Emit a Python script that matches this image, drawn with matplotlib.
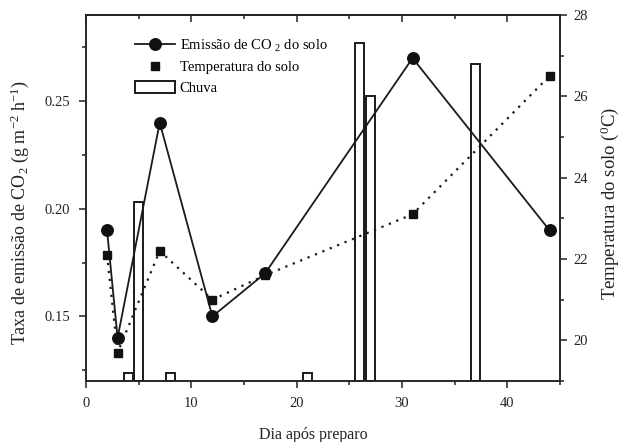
import numpy as np
import matplotlib
matplotlib.use('Agg')
import matplotlib.pyplot as plt
from matplotlib.lines import Line2D
from matplotlib.patches import Rectangle
from matplotlib.ticker import MultipleLocator, FormatStrFormatter

# ---- data ----
days = [2, 3, 7, 12, 17, 31, 44]
co2 = [0.19, 0.14, 0.24, 0.15, 0.17, 0.27, 0.19]          # g m-2 h-1
temp = [22.1, 19.7, 22.2, 21.0, 21.6, 23.1, 26.5]          # soil temperature (C)
rain_days = [4, 5, 8, 21, 26, 27, 37]
rain_mm = [1.0, 22.0, 1.0, 1.0, 41.5, 35.0, 39.0]          # rainfall (hidden scale)

plt.rcParams['font.family'] = ['Liberation Serif', 'DejaVu Serif']
plt.rcParams['mathtext.fontset'] = 'custom'
plt.rcParams['mathtext.rm'] = 'Liberation Serif'
plt.rcParams['mathtext.it'] = 'Liberation Serif:italic'
plt.rcParams['axes.linewidth'] = 1.1

INK = '#1a1a1a'
TXT = '#222222'

fig = plt.figure(figsize=(6.23, 4.42), dpi=100)
ax = fig.add_axes([0.138, 0.138, 0.761, 0.828])

# rain bars on a hidden scale
ax3 = ax.twinx()
ax3.bar(rain_days, rain_mm, width=0.85, facecolor='none', edgecolor=INK,
        linewidth=1.4, align='center')
ax3.set_ylim(0, 45)
ax3.axis('off')

# CO2 emission
ax.plot(days, co2, color=INK, lw=1.3, marker='o', ms=8.3,
        markerfacecolor='#111111', markeredgecolor='#111111', zorder=5)
ax.set_xlim(0, 45)
ax.set_ylim(0.12, 0.29)
ax.xaxis.set_major_locator(MultipleLocator(10))
ax.xaxis.set_minor_locator(MultipleLocator(5))
ax.yaxis.set_major_locator(MultipleLocator(0.05))
ax.yaxis.set_minor_locator(MultipleLocator(0.025))
ax.yaxis.set_major_formatter(FormatStrFormatter('%.2f'))
ax.tick_params(axis='both', which='major', direction='out', length=5, width=1.1,
               labelsize=10.5, colors=TXT)
ax.tick_params(axis='both', which='minor', direction='out', length=3, width=1.1,
               colors=TXT)
ax.tick_params(axis='x', which='major', pad=6.5)
ax.tick_params(axis='y', which='major', pad=6.5)
ax.set_xlabel('Dia após preparo', fontsize=11.5, color=TXT)
ax.xaxis.set_label_coords(0.479, -0.126)
ax.set_ylabel('Taxa de emissão de CO$_2$ (g m$^{-2}$ h$^{-1}$)', fontsize=13,
              color=TXT)
ax.yaxis.set_label_coords(-0.115, 0.459)

# top ticks pointing inward
top = ax.secondary_xaxis('top')
top.xaxis.set_major_locator(MultipleLocator(10))
top.xaxis.set_minor_locator(MultipleLocator(5))
top.tick_params(which='major', direction='in', length=5, width=1.1, labeltop=False,
                colors=TXT)
top.tick_params(which='minor', direction='in', length=3, width=1.1, colors=TXT)

# soil temperature
ax2 = ax.twinx()
ax2.plot(days, temp, color=INK, lw=1.6, linestyle=(0, (1, 2.6)))
ax2.plot(days, temp, linestyle='none', marker='s', ms=6.2, color='#111111', zorder=5)
ax2.set_ylim(19, 28)
ax2.yaxis.set_major_locator(MultipleLocator(2))
ax2.yaxis.set_minor_locator(MultipleLocator(1))
ax2.tick_params(axis='y', which='major', direction='out', length=5, width=1.1,
                labelsize=10.5, colors=TXT, pad=4.5)
ax2.tick_params(axis='y', which='minor', direction='out', length=3, width=1.1,
                colors=TXT)
ax2.set_ylabel('Temperatura do solo ($^{0}$C)', fontsize=13.5, color=TXT)
ax2.yaxis.set_label_coords(1.082, 0.486)

for a in (ax, ax2, ax3):
    for s in a.spines.values():
        s.set_color(TXT)

handles = [
    Line2D([], [], color=INK, lw=1.3, marker='o', ms=8.3,
           markerfacecolor='#111111', markeredgecolor='#111111'),
    Line2D([], [], linestyle='none', marker='s', ms=6.2, color='#111111'),
    Rectangle((0, 0), 1, 1, facecolor='none', edgecolor=INK, lw=1.4),
]
labels = ['Emissão de CO $_{2}$ do solo', 'Temperatura do solo', 'Chuva']
ax2.legend(handles, labels, loc='upper left', bbox_to_anchor=(0.103, 0.938),
           frameon=False, fontsize=10.5, handlelength=2.75, handleheight=0.9,
           handletextpad=0.34, labelspacing=0.45, borderpad=0, borderaxespad=0)

fig.savefig('out.png', dpi=100)
